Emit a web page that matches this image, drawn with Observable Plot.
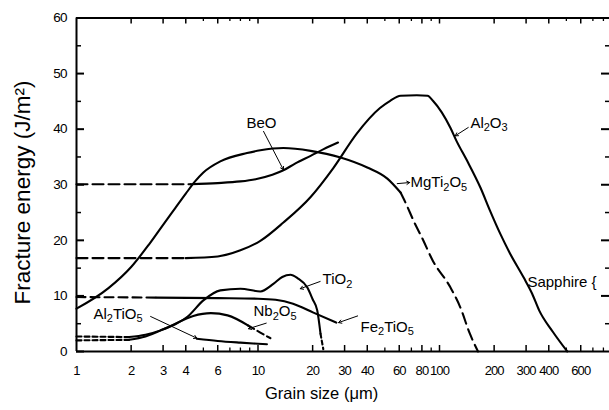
<!DOCTYPE html>
<html>
<head>
<meta charset="utf-8">
<script src="https://cdn.jsdelivr.net/npm/d3@7"></script>
<script src="https://cdn.jsdelivr.net/npm/@observablehq/plot@0.6"></script>
<style>
  html, body { margin: 0; padding: 0; background: #fff; overflow: hidden; }
  #chart svg { display: block; }
</style>
</head>
<body>
<div id="chart"></div>
<script>
// ---- data (grain size in µm, fracture energy in J/m²) ----
const xTickLabels = [1, 2, 3, 4, 6, 10, 20, 30, 40, 60, 80, 100, 200, 300, 400, 600];
const xMinorTicks = [5, 7, 8, 9, 50, 70, 90, 500, 700, 800];
const yTickLabels = [0, 10, 20, 30, 40, 50, 60];
const yMinorTicks = [5, 15, 25, 35, 45, 55];

const al2o3Dashed = [[1, 16.8], [4, 16.8]];
const al2o3 = [[4, 16.8], [6, 17.1], [8, 18.2], [10.3, 19.9], [13.8, 23.2], [19.5, 27.8], [26, 33], [35, 39.2],
  [47, 43.8], [53.5, 45.1], [61, 46], [75, 46.1], [86, 46], [92, 45.1], [115, 40.2], [124, 37.9], [142, 34.3],
  [168, 29.5], [190, 25.3], [216, 21.2], [245, 17.6], [291, 13.3], [324, 10.4], [354, 7.4], [420, 3.6], [506, 0]];

const mgti2o5 = [[1, 7.7], [1.5, 11.4], [2, 15.2], [2.5, 19.2], [3, 22.8], [3.5, 25.8], [4, 28.4], [4.5, 30.6],
  [5, 32.2], [6.2, 34.2], [8.7, 35.7], [10.3, 36.2], [13.8, 36.6], [19.5, 36.1], [28.5, 34.9], [40, 33.1],
  [51.6, 31.1], [61, 28.6]];
const mgti2o5Dashed = [[61, 28.6], [66, 26.3], [72, 23.5], [80, 20.5], [92, 16.3], [115, 11.5], [130, 8], [147, 3.2], [163, 0]];

const beoDashed = [[1, 30.1], [4.25, 30.1]];
const beo = [[4.25, 30.1], [6, 30.3], [8, 30.6], [9.7, 31.0], [12, 31.8], [13.8, 32.6], [16, 33.8], [19.5, 35.2], [23, 36.4], [27.6, 37.6]];

const fe2tio5Dashed = [[1, 9.8], [2.75, 9.7]];
const fe2tio5 = [[2.75, 9.7], [6, 9.6], [10, 9.5], [12.5, 9.3], [15.6, 8.6], [20.2, 7.0], [27, 5.2]];

const tio2Dashed = [[1, 2.7], [1.95, 2.6]];
const tio2 = [[1.95, 2.6], [2.4, 3.0], [2.9, 3.8], [3.5, 4.9], [4.1, 6.3], [5.0, 9.2], [6.2, 11.0], [8.0, 11.3],
  [10.3, 10.8], [12.2, 12.2], [13.6, 13.4], [15.1, 13.8], [16.5, 13.2], [18.7, 11.5], [20, 9.4], [21.2, 7.4], [22.1, 3.2]];
const tio2Dashed2 = [[22.1, 3.2], [22.9, 0.4]];

const nb2o5Dashed = [[1, 2.0], [1.95, 2.1]];
const nb2o5 = [[1.95, 2.1], [2.4, 2.7], [3.3, 4.6], [4.4, 6.4], [5.5, 6.9], [6.8, 6.5], [8.8, 4.7]];
const nb2o5Dashed2 = [[8.8, 4.7], [10.3, 3.4], [11.7, 2.4]];

const al2tio5 = [[4.6, 2.3], [6, 1.9], [8, 1.6], [10, 1.4], [11.2, 1.3]];

// labels [x, y, text]  ("_n" marks a subscript digit)
const labelsMiddle = [[10.45, 41.1, "BeO"]];
const labelsStart = [
  [148, 41.1, "Al_2O_3"],
  [69.2, 30.4, "MgTi_2O_5"],
  [305, 12.4, "Sapphire {"],
  [22.7, 13.0, "TiO_2"],
  [36.7, 4.4, "Fe_2TiO_5"],
  [9.45, 7.2, "Nb_2O_5"],
  [1.24, 6.8, "Al_2TiO_5"]
];
// leader lines [x1, y1, x2, y2]
const leaders = [
  [10.73, 39.6, 13.8, 32.7],
  [144, 40.3, 122, 38.8],
  [58.5, 30.2, 68.5, 30.4],
  [22.0, 12.6, 17.1, 11.3],
  [35.4, 6.4, 27.8, 5.2],
  [11.1, 5.1, 8.86, 4.1],
  [2.56, 6.3, 4.6, 2.4]
];

// ---- layout ----
const W = 609, H = 410, mL = 76, mT = 17.5, mB = 59;
const plotH = H - mT - mB, plotW = W - mL;
const decade = 181.5;
const font = "'Liberation Sans', Arial, Helvetica, sans-serif";

const line = (d, dash) => Plot.line(d, {x: p => p[0], y: p => p[1], stroke: "#000", strokeWidth: 2.1,
  curve: "monotone-x", strokeDasharray: dash || null});

const chart = Plot.plot({
  width: W, height: H,
  marginLeft: mL, marginRight: 0, marginTop: mT, marginBottom: mB,
  style: {fontFamily: font, background: "#fff", color: "#000"},
  x: {type: "log", domain: [1, 1000], range: [mL, mL + 3 * decade], axis: null},
  y: {domain: [0, 60], axis: null},
  marks: [
    // frame
    Plot.ruleY([0, 60], {stroke: "#000", strokeWidth: 2}),
    Plot.ruleX([1], {stroke: "#000", strokeWidth: 2}),
    // bottom & top ticks (inward)
    Plot.ruleX(xTickLabels.slice(1), {stroke: "#000", strokeWidth: 1.5, insetTop: plotH - 6}),
    Plot.ruleX(xMinorTicks, {stroke: "#000", strokeWidth: 1.3, insetTop: plotH - 3.5}),
    Plot.ruleX(xTickLabels.slice(1), {stroke: "#000", strokeWidth: 1.5, insetBottom: plotH - 6}),
    Plot.ruleX(xMinorTicks, {stroke: "#000", strokeWidth: 1.3, insetBottom: plotH - 3.5}),
    // left & right ticks (inward)
    Plot.ruleY(yTickLabels, {stroke: "#000", strokeWidth: 2, insetRight: plotW - 8}),
    Plot.ruleY(yMinorTicks, {stroke: "#000", strokeWidth: 1.5, insetRight: plotW - 5}),
    Plot.ruleY(yTickLabels.slice(1, -1), {stroke: "#000", strokeWidth: 2, insetLeft: plotW - 8}),
    Plot.ruleY(yMinorTicks, {stroke: "#000", strokeWidth: 1.5, insetLeft: plotW - 4}),
    // tick labels
    Plot.text(xTickLabels, {x: d => d, y: () => 0, dy: 19, text: d => String(d), fontSize: 13, fill: "#000"}),
    Plot.text(yTickLabels, {x: () => 1, y: d => d, dx: -10, textAnchor: "end", text: d => String(d), fontSize: 13.5, fill: "#000"}),
    // axis titles
    Plot.text(["Grain size (μm)"], {x: () => 22.4, y: () => 0, dy: 42, text: d => d, fontSize: 16.5, fill: "#000"}),
    Plot.text(["Fracture energy (J/m²)"], {x: () => 1, y: () => 28.6, dx: -54, rotate: -90, text: d => d, fontSize: 22.5, fill: "#000"}),
    // curves
    line(al2o3Dashed, "11,5"), line(al2o3),
    line(mgti2o5), line(mgti2o5Dashed, "11,6"),
    line(beoDashed, "11,5"), line(beo),
    line(fe2tio5Dashed, "9,5"), line(fe2tio5),
    line(tio2Dashed, "5,3"), line(tio2), line(tio2Dashed2, "4,3"),
    line(nb2o5Dashed, "5,3"), line(nb2o5), line(nb2o5Dashed2, "7,4"),
    line(al2tio5),
    // leaders
    Plot.arrow(leaders, {x1: d => d[0], y1: d => d[1], x2: d => d[2], y2: d => d[3], stroke: "#000",
      strokeWidth: 1, headLength: 5, bend: false}),
    // labels
    Plot.text(labelsMiddle, {x: d => d[0], y: d => d[1], text: d => d[2], textAnchor: "middle", fontSize: 15, fill: "#000"}),
    Plot.text(labelsStart, {x: d => d[0], y: d => d[1], text: d => d[2], textAnchor: "start", fontSize: 15, fill: "#000"})
  ]
});

// render "_n" as subscript tspans; tighten numeric tick labels a little
const svgNS = "http://www.w3.org/2000/svg";
d3.select(chart).selectAll("text").each(function () {
  const s = this.textContent;
  if (/^\d+$/.test(s)) { this.setAttribute("letter-spacing", "-0.9"); return; }
  if (!s.includes("_")) return;
  this.textContent = "";
  let down = false;
  for (const part of s.split(/(_\d)/)) {
    if (!part) continue;
    const ts = document.createElementNS(svgNS, "tspan");
    if (part[0] === "_") {
      ts.textContent = part.slice(1);
      ts.setAttribute("font-size", "11");
      if (!down) { ts.setAttribute("dy", "3.5"); down = true; }
    } else {
      ts.textContent = part;
      if (down) { ts.setAttribute("dy", "-3.5"); down = false; }
    }
    this.appendChild(ts);
  }
});
document.getElementById("chart").appendChild(chart);
</script>
</body>
</html>
